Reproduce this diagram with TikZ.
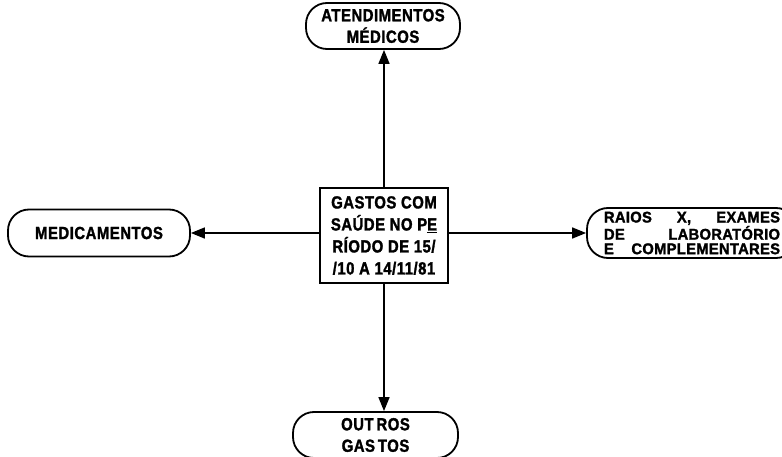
\documentclass[tikz,border=0pt]{standalone}
\usepackage{fontspec}
\setmainfont{Liberation Sans}
% narrow, heavy lettering for the labels
\newfontfamily\lett{Liberation Sans}[FakeStretch=0.85, FakeBold=1.6, LetterSpace=3]
\newfontfamily\lettwide{Liberation Sans}[FakeStretch=0.95, FakeBold=1.6, LetterSpace=2]
\usetikzlibrary{arrows.meta}
\begin{document}
\begin{tikzpicture}[x=1pt,y=1pt,
  lbl/.style={font=\lett\bfseries\fontsize{17.5}{21.5}\selectfont, align=center, inner sep=0pt},
  pill/.style={draw, line width=1.8pt, rounded corners=21pt, minimum height=46pt},
  mainbox/.style={draw, line width=1.8pt, minimum width=128pt, minimum height=95pt,
    font=\lett\bfseries\fontsize{17.5}{22}\selectfont, align=center, inner sep=0pt},
  link/.style={line width=1.6pt, -{Triangle[length=14pt,width=11pt]}}]
\useasboundingbox (0,0) rectangle (782,456);

% central box
\node[mainbox] (c) at (384,220.5) {GASTOS COM\\SAÚDE NO P\underline{E}\\RÍODO DE 15/\\/10 A 14/11/81};

% surrounding items
\node[pill, minimum width=154pt, lbl] (top) at (383,430) {ATENDIMENTOS\\MÉDICOS};
\node[pill, minimum width=182pt, minimum height=47pt, lbl] (left) at (99,223) {MEDICAMENTOS};
\node[pill, minimum width=210pt, minimum height=50pt, inner sep=0pt,
  font=\lettwide\bfseries\fontsize{15.5}{14.5}\selectfont, align=left] (right) at (692,223)
  {\makebox[176pt][s]{RAIOS X, EXAMES}\\\makebox[176pt][s]{DE \hfill LABORATÓRIO}\\\makebox[176pt][s]{E COMPLEMENTARES}};
\node[pill, minimum width=165pt, lbl] (bot) at (375.5,21) {OUT\,ROS\\GAS\,TOS};

% connectors
\draw[link] (c.north) -- (c.north |- top.south);
\draw[link] (c.south) -- (c.south |- bot.north);
\draw[link] (c.west |- left.east) -- (left.east);
\draw[link] (c.east |- right.west) -- (right.west);
\end{tikzpicture}
\end{document}
